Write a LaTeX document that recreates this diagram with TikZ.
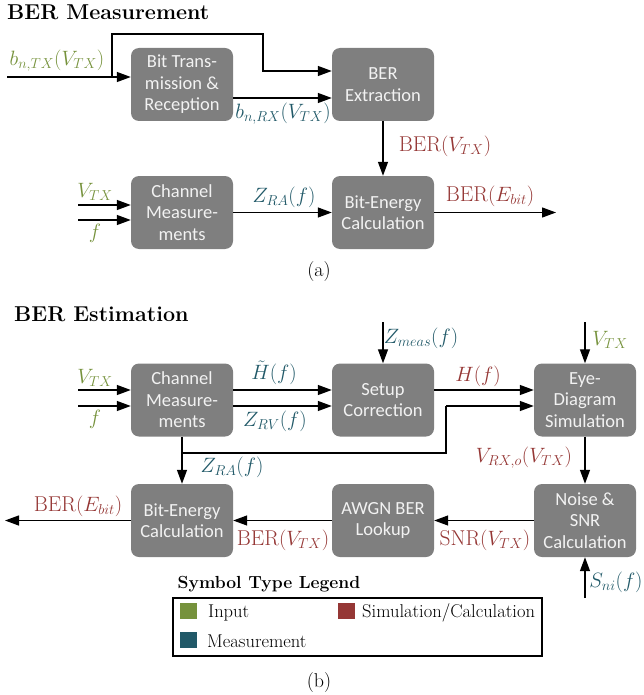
\documentclass[tikz,border=0pt]{standalone}
\usepackage{fontspec}
\newfontfamily\boxfont{Carlito}
\usetikzlibrary{arrows.meta,calc}
\definecolor{cin}{HTML}{76923C}
\definecolor{cmeas}{HTML}{215968}
\definecolor{csim}{HTML}{953735}
\definecolor{boxgray}{HTML}{7F7F7F}
\definecolor{boxtext}{HTML}{F2F2F2}
\begin{document}
\begin{tikzpicture}[x=1pt,y=-1pt,
  blk/.style={rectangle,rounded corners=8pt,fill=boxgray,minimum width=102pt,minimum height=73pt,inner sep=0pt,align=center,text=boxtext,font=\boxfont\fontsize{18.5}{21.5}\selectfont},
  conn/.style={line width=1.3pt,-{Triangle[length=14pt,width=10pt]}},
  wire/.style={line width=1.3pt},
  lbl/.style={inner sep=0pt,font=\fontsize{21.5}{25}\selectfont},
  ttl/.style={inner sep=0pt,anchor=west,font=\bfseries\fontsize{21.5}{24}\selectfont},
  legtxt/.style={inner sep=0pt,anchor=west,font=\fontsize{18.5}{21}\selectfont},
  captxt/.style={inner sep=0pt,font=\fontsize{20}{23}\selectfont},
  sw/.style={inner sep=0pt,minimum width=17pt,minimum height=16pt}]
\useasboundingbox (0,0) rectangle (644,695);

% ---------------- (a) BER Measurement ----------------
\node[ttl] (t1) at (7,12) {BER Measurement};
\node[blk] (bt)  at (182,84.5) {Bit Trans-\\mission \&\\Reception};
\node[blk] (be)  at (383,84.5) {BER\\Extraction};
\node[blk] (cma) at (182,212.5) {Channel\\Measure-\\ments};
\node[blk] (bea) at (383,212.5) {Bit-Energy\\Calculation};

\coordinate (ina) at (7,77);
\coordinate (bra) at (112,77);
\coordinate (up1) at (112,34);
\coordinate (up2) at (263,34);
\coordinate (up3) at (263,71);
\draw[conn] (ina) -- (ina -| bt.west);
\draw[conn] (bra) -- (up1) -- (up2) -- (up3) -- (up3 -| be.west);
\draw[conn] ($(bt.east)+(0,13.5)$) -- ($(be.west)+(0,13.5)$);
\draw[conn] (be) -- (bea);
\coordinate (va) at (78,205);
\coordinate (fa) at (78,220);
\draw[conn] (va) -- (va -| cma.west);
\draw[conn] (fa) -- (fa -| cma.west);
\draw[conn] (cma) -- (bea);
\coordinate (outa) at (556,212.5);
\draw[conn] (bea) -- (outa);

\node[lbl,text=cin]   (l1) at (57,61)  {$b_{n,TX}(V_{TX})$};
\node[lbl,text=cmeas] (l2) at (283,114) {$b_{n,RX}(V_{TX})$};
\node[lbl,text=csim]  (l3) at (445,146) {$\mathrm{BER}(V_{TX})$};
\node[lbl,text=cin]   (l4) at (95,192) {$V_{TX}$};
\node[lbl,text=cin]   (l5) at (95,233) {$f$};
\node[lbl,text=cmeas] (l6) at (284,197) {$Z_{RA}(f)$};
\node[lbl,text=csim]  (l7) at (490,196) {$\mathrm{BER}(E_{bit})$};
\node[captxt] (capa) at (319,272) {(a)};

% ---------------- (b) BER Estimation ----------------
\node[ttl] (t2) at (14,314) {BER Estimation};
\node[blk] (cmb)  at (182,400) {Channel\\Measure-\\ments};
\node[blk] (sc)   at (383,400) {Setup\\Correction};
\node[blk] (eye)  at (585,400) {Eye-\\Diagram\\Simulation};
\node[blk] (beb)  at (182,520.5) {Bit-Energy\\Calculation};
\node[blk] (awgn) at (383,520.5) {AWGN BER\\Lookup};
\node[blk] (nse)  at (585,520.5) {Noise \&\\SNR\\Calculation};

\coordinate (vb) at (78,390);
\coordinate (fb) at (78,406);
\draw[conn] (vb) -- (vb -| cmb.west);
\draw[conn] (fb) -- (fb -| cmb.west);
\draw[conn] ($(cmb.east)+(0,-10)$) -- ($(sc.west)+(0,-10)$);
\draw[conn] ($(cmb.east)+(0,6)$) -- ($(sc.west)+(0,6)$);
\draw[conn] ($(sc.east)+(0,-10)$) -- ($(eye.west)+(0,-10)$);
\coordinate (zm) at (383,322);
\draw[conn] (zm) -- (sc.north);
\coordinate (vtop) at (585,322);
\draw[conn] (vtop) -- (eye.north);
\draw[conn] (cmb) -- (beb);
\coordinate (j1) at (182,453);
\coordinate (j2) at (446,453);
\coordinate (j3) at (446,406);
\draw[wire] (j1) -- (j2) -- (j3);
\draw[conn] (j3) -- (j3 -| eye.west);
\draw[conn] (eye) -- (nse);
\coordinate (sni) at (585,598);
\draw[conn] (sni) -- (nse.south);
\draw[conn] (nse) -- (awgn);
\draw[conn] (awgn) -- (beb);
\coordinate (outb) at (5,520.5);
\draw[conn] (beb) -- (outb);

\node[lbl,text=cin]   (m1) at (95,378) {$V_{TX}$};
\node[lbl,text=cin]   (m2) at (95,419) {$f$};
\node[lbl,text=cmeas] (m3) at (274,372.5) {$\tilde{H}(f)$};
\node[lbl,text=cmeas] (m4) at (275,421) {$Z_{RV}(f)$};
\node[lbl,text=cmeas] (m5) at (421,338) {$Z_{meas}(f)$};
\node[lbl,text=cin]   (m6) at (610,340) {$V_{TX}$};
\node[lbl,text=csim]  (m7) at (478,376) {$H(f)$};
\node[lbl,text=cmeas] (m8) at (232,467) {$Z_{RA}(f)$};
\node[lbl,text=csim]  (m9) at (524,458) {$V_{RX,o}(V_{TX})$};
\node[lbl,text=cmeas] (m10) at (616,582) {$S_{ni}(f)$};
\node[lbl,text=csim]  (m11) at (485,540) {$\mathrm{SNR}(V_{TX})$};
\node[lbl,text=csim]  (m12) at (283,540) {$\mathrm{BER}(V_{TX})$};
\node[lbl,text=csim]  (m13) at (78,506) {$\mathrm{BER}(E_{bit})$};

% legend
\node[inner sep=0pt,font=\bfseries\fontsize{17.5}{20}\selectfont] (lt) at (269,584) {Symbol Type Legend};
\node[draw,line width=1.2pt,inner sep=0pt,minimum width=369pt,minimum height=58pt] (lb) at (357.5,627) {};
\node[sw,fill=cin]   (s1) at (188.5,611) {};
\node[sw,fill=csim]  (s2) at (346,611) {};
\node[sw,fill=cmeas] (s3) at (188.5,639.5) {};
\node[legtxt] (x1) at (208,613) {Input};
\node[legtxt] (x2) at (362,613) {Simulation/Calculation};
\node[legtxt] (x3) at (207,641) {Measurement};
\node[captxt] (capb) at (319,683) {(b)};
\end{tikzpicture}
\end{document}
